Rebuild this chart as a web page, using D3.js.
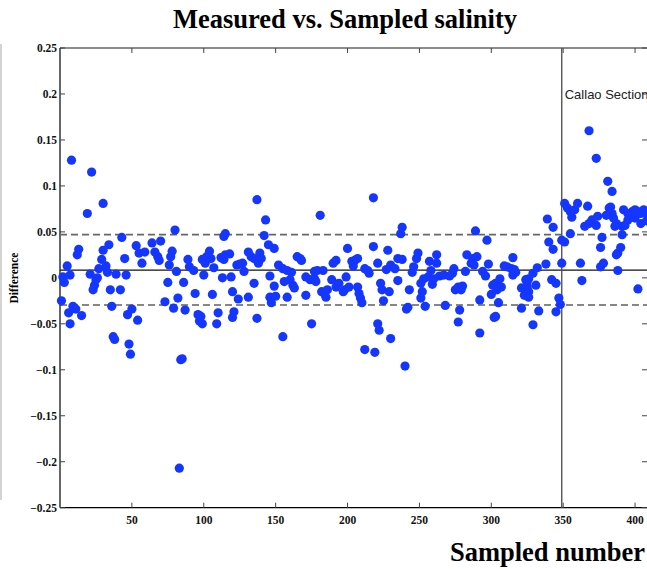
<!DOCTYPE html>
<html lang="en">
<head>
  <meta charset="UTF-8">
  <title>Measured vs. Sampled salinity</title>
  <script src="https://d3js.org/d3.v7.min.js"></script>
  <style>
    body { margin: 0; background: #fff; }
    svg { display: block; }
    .tick-label { font-family: "Liberation Serif", "Times New Roman", serif; font-weight: bold; font-size: 11.5px; fill: #111; }
    .title { font-family: "Liberation Serif", "Times New Roman", serif; font-weight: bold; font-size: 26.5px; fill: #000; }
  </style>
</head>
<body>
  <svg width="647" height="569"></svg>
  <script>
    // sample number / measured minus sampled salinity
    const sampleNo = [
      1, 2, 3, 5, 6, 7, 7, 8, 9, 11, 12, 13, 15, 19, 21, 22, 23, 24, 25, 26,
      27, 29, 30, 30, 32, 33, 34, 35, 36, 37, 38, 39, 42, 43, 45, 46, 47, 48, 49, 50,
      53, 54, 55, 57, 59, 64, 66, 68, 69, 70, 73, 75, 76, 77, 78, 79, 80, 81, 82, 83,
      84, 85, 86, 87, 89, 90, 93, 94, 96, 97, 98, 99, 99, 100, 101,
      102, 104, 105, 106, 107, 109, 110, 112, 113, 114, 114, 115, 115, 118, 119, 120, 120, 121, 123, 124,
      125, 127, 128, 131, 131, 133, 135, 135, 137, 137, 138, 139, 140, 142, 143, 145, 146, 146, 147, 149,
      149, 150, 152, 155, 155, 156, 158, 158, 160, 161, 162, 163, 165, 167, 168, 171, 171, 174, 175, 177,
      177, 178, 179, 181, 182, 183, 184, 185, 186, 189, 190, 192, 192, 194, 197, 200,
      198, 199, 201, 203, 204, 205, 207, 207, 208, 209, 210, 212, 212, 214, 215, 218, 218, 219, 221, 221,
      222, 223, 224, 225, 227, 228, 229, 230, 230, 233, 235, 235, 237, 238, 238, 240, 241, 242, 243, 245,
      246, 248, 249, 251, 251, 252, 253, 254, 256, 257, 258, 259, 260, 262, 262, 264, 267, 268, 271, 273,
      274, 275, 277, 277, 278, 279, 280, 282, 283, 286, 287, 288, 289, 290, 292, 292, 294, 296, 297, 298,
      300, 301, 302,
      303, 303, 304, 305, 306, 307, 309, 311, 314, 315, 315, 316, 317, 321, 321, 323, 324, 325, 325, 326,
      326, 326, 329, 329, 331, 332, 333, 338, 339, 340, 342, 343, 343, 345, 345, 347, 348, 349, 349, 351,
      351, 353, 355, 355, 356, 358, 360, 362, 363, 365, 367, 368, 368, 370, 373, 373, 374, 376, 376, 377,
      378, 380, 381, 382, 383, 384, 384, 385, 386, 387, 387, 388, 388, 390, 391, 391, 392, 393, 395, 395,
      398, 400, 400, 402, 402, 404, 404, 406, 408, 408
    ];
    const difference = [
      -0.025, 0.001, -0.005, 0.013, -0.038, 0.003, -0.050, 0.128, -0.031, -0.034, 0.025, 0.031, -0.041, 0.070, 0.004, 0.115, -0.013, -0.008, -0.002, 0.000,
      0.010, 0.020, 0.030, 0.081, 0.013, 0.006, 0.036, -0.013, -0.031, -0.064, -0.067, 0.004, -0.013, 0.044, 0.021, 0.003, -0.040, -0.072, -0.083, -0.034,
      0.035, -0.046, 0.027, 0.016, 0.028, 0.038, 0.028, 0.023, 0.019, 0.040, -0.026, -0.005, 0.014, 0.023, 0.029, -0.033, 0.052, 0.007, -0.022, -0.207,
      -0.089, -0.088, -0.005, -0.035, 0.020, 0.012, 0.008, -0.017, -0.040, -0.047, -0.042, -0.050, 0.020, 0.003, 0.016,
      0.023, 0.029, 0.021, -0.018, 0.011, -0.050, -0.038, 0.022, 0.000, 0.020, 0.045, 0.025, 0.048, 0.026, 0.001, -0.015, -0.043, -0.037, 0.014, -0.023,
      0.015, 0.016, 0.007, 0.028, -0.021, 0.023, 0.021, -0.006, 0.085, -0.044, 0.016, 0.027, 0.021, 0.046, 0.063, 0.036, -0.021, 0.002, -0.027, -0.009,
      0.032, -0.020, 0.014, -0.064, 0.010, -0.004, 0.008, -0.021, -0.002, 0.006, -0.008, -0.011, 0.023, 0.021, 0.019, -0.019, 0.001, -0.002, -0.050, -0.001,
      0.007, -0.004, 0.008, 0.068, -0.015, 0.008, -0.017, -0.021, -0.013, -0.002, 0.016, 0.019, -0.010, -0.006, -0.015, 0.032,
      -0.013, 0.001, -0.010, 0.018, 0.013, 0.019, 0.021, -0.010, -0.017, -0.022, -0.027, 0.010, -0.078, 0.008, 0.005, 0.034, 0.087, -0.081, 0.016, -0.050,
      -0.057, -0.006, -0.013, -0.025, 0.009, 0.030, -0.015, -0.066, 0.014, 0.010, 0.021, -0.003, 0.048, 0.055, 0.020, -0.096, -0.034, -0.032, -0.013, 0.006,
      0.012, 0.021, 0.027, -0.006, -0.022, -0.015, -0.001, -0.031, 0.001, 0.018, 0.008, -0.007, -0.001, 0.025, 0.016, 0.002, 0.003, -0.030, 0.002, 0.005,
      0.010, -0.013, -0.010, -0.048, -0.035, -0.013, -0.009, 0.007, 0.025, 0.016, 0.021, 0.014, 0.051, 0.023, -0.024, -0.060, 0.007, 0.002, 0.041, 0.015,
      -0.018, -0.008, -0.043,
      -0.006, -0.042, -0.013, -0.027, -0.001, -0.010, 0.013, 0.012, 0.010, 0.022, 0.003, 0.009, 0.006, -0.011, -0.033, -0.019, -0.002, -0.004, -0.010, -0.001,
      -0.015, -0.021, 0.005, -0.051, -0.008, 0.011, -0.036, 0.015, 0.064, 0.039, -0.002, 0.031, 0.055, -0.006, -0.037, -0.022, -0.029, 0.041, 0.016, 0.039,
      0.081, 0.076, 0.072, 0.048, 0.066, 0.074, 0.081, 0.016, -0.003, 0.056, 0.078, 0.059, 0.160, 0.063, 0.130, 0.057, 0.067, 0.012, 0.033, 0.044,
      0.016, 0.068, 0.105, 0.076, 0.077, 0.094, 0.070, 0.065, 0.056, 0.059, 0.025, 0.027, 0.008, 0.033, 0.056, 0.047, 0.074, 0.057, 0.070, 0.063,
      0.072, 0.074, 0.065, 0.072, -0.012, 0.070, 0.059, 0.074, 0.070, 0.062
    ];

    const xTicks = [50, 100, 150, 200, 250, 300, 350, 400];
    const yTicks = [0.25, 0.2, 0.15, 0.1, 0.05, 0, -0.05, -0.1, -0.15, -0.2, -0.25];
    const meanLine = 0.0085;
    const bandLines = [0.047, -0.0296];
    const callaoStart = 349;

    const plotLeft = 60, plotRight = 648, plotTop = 48, plotBottom = 507.7;
    const svg = d3.select("svg");

    const x = d3.scaleLinear().domain([0, 409]).range([plotLeft, plotRight]);
    const y = d3.scaleLinear().domain([-0.25, 0.25]).range([plotBottom, plotTop]);

    // faint frame edge at far left of the original figure
    svg.append("line").attr("x1", 1).attr("x2", 1).attr("y1", 44).attr("y2", 500)
      .attr("stroke", "#d4d4d4").attr("stroke-width", 2);

    svg.append("text").attr("class", "title")
      .attr("x", 345).attr("y", 28).attr("text-anchor", "middle")
      .text("Measured vs. Sampled salinity");

    // plot box
    svg.append("line").attr("x1", plotLeft).attr("x2", plotRight).attr("y1", plotTop).attr("y2", plotTop)
      .attr("stroke", "#666").attr("stroke-width", 1.4);
    svg.append("line").attr("x1", plotLeft).attr("x2", plotLeft).attr("y1", plotTop).attr("y2", plotBottom)
      .attr("stroke", "#000").attr("stroke-width", 1.2);
    svg.append("line").attr("x1", plotLeft).attr("x2", plotRight).attr("y1", plotBottom).attr("y2", plotBottom)
      .attr("stroke", "#000").attr("stroke-width", 1.2);

    // ticks point inward on all four sides
    const tickG = svg.append("g").attr("stroke", "#444").attr("stroke-width", 1);
    xTicks.forEach(t => {
      tickG.append("line").attr("x1", x(t)).attr("x2", x(t)).attr("y1", plotBottom).attr("y2", plotBottom - 5);
      tickG.append("line").attr("x1", x(t)).attr("x2", x(t)).attr("y1", plotTop).attr("y2", plotTop + 5);
    });
    yTicks.forEach(t => {
      tickG.append("line").attr("x1", plotLeft).attr("x2", plotLeft + 5).attr("y1", y(t)).attr("y2", y(t));
      tickG.append("line").attr("x1", plotRight - 6).attr("x2", plotRight).attr("y1", y(t)).attr("y2", y(t));
    });

    svg.selectAll(".xlab").data(xTicks).enter().append("text")
      .attr("class", "tick-label").attr("x", d => x(d)).attr("y", 524)
      .attr("text-anchor", "middle").text(d => d);

    const fmt = d => (d < 0 ? "\u2212" : "") + String(Math.abs(d));
    svg.selectAll(".ylab").data(yTicks).enter().append("text")
      .attr("class", "tick-label").attr("x", 57).attr("y", d => y(d) + 4)
      .attr("text-anchor", "end").text(fmt);

    // reference lines
    svg.append("line").attr("x1", plotLeft).attr("x2", plotRight)
      .attr("y1", y(meanLine)).attr("y2", y(meanLine))
      .attr("stroke", "#111").attr("stroke-width", 1.2);
    svg.selectAll(".band").data(bandLines).enter().append("line")
      .attr("x1", plotLeft).attr("x2", plotRight)
      .attr("y1", d => y(d)).attr("y2", d => y(d))
      .attr("stroke", (d, i) => i === 0 ? "#666" : "#111")
      .attr("stroke-width", (d, i) => i === 0 ? 1.6 : 1.1)
      .attr("stroke-dasharray", "7,4");

    svg.append("line").attr("x1", x(callaoStart)).attr("x2", x(callaoStart))
      .attr("y1", plotTop).attr("y2", plotBottom)
      .attr("stroke", "#555").attr("stroke-width", 1.4);

    // the label runs past the right edge in the original too
    svg.append("text").attr("x", x(callaoStart) + 3).attr("y", 99)
      .style("font-family", "'Liberation Sans', Arial, sans-serif").style("font-size", "13px")
      .attr("fill", "#222").text("Callao Section");

    // points
    svg.append("g").selectAll("circle")
      .data(sampleNo.map((s, i) => ({ s: s, d: difference[i] })))
      .enter().append("circle")
      .attr("cx", d => x(d.s))
      .attr("cy", d => y(d.d))
      .attr("r", 4.6)
      .attr("fill", "#1436ff");

    svg.append("text").attr("class", "title")
      .attr("x", 645).attr("y", 561).attr("text-anchor", "end")
      .text("Sampled number");

    svg.append("text")
      .attr("transform", "translate(18,278) rotate(-90)")
      .attr("text-anchor", "middle")
      .style("font-family", "'Liberation Serif', 'Times New Roman', serif")
      .style("font-weight", "bold").style("font-size", "11.5px")
      .text("Difference");
  </script>
</body>
</html>
